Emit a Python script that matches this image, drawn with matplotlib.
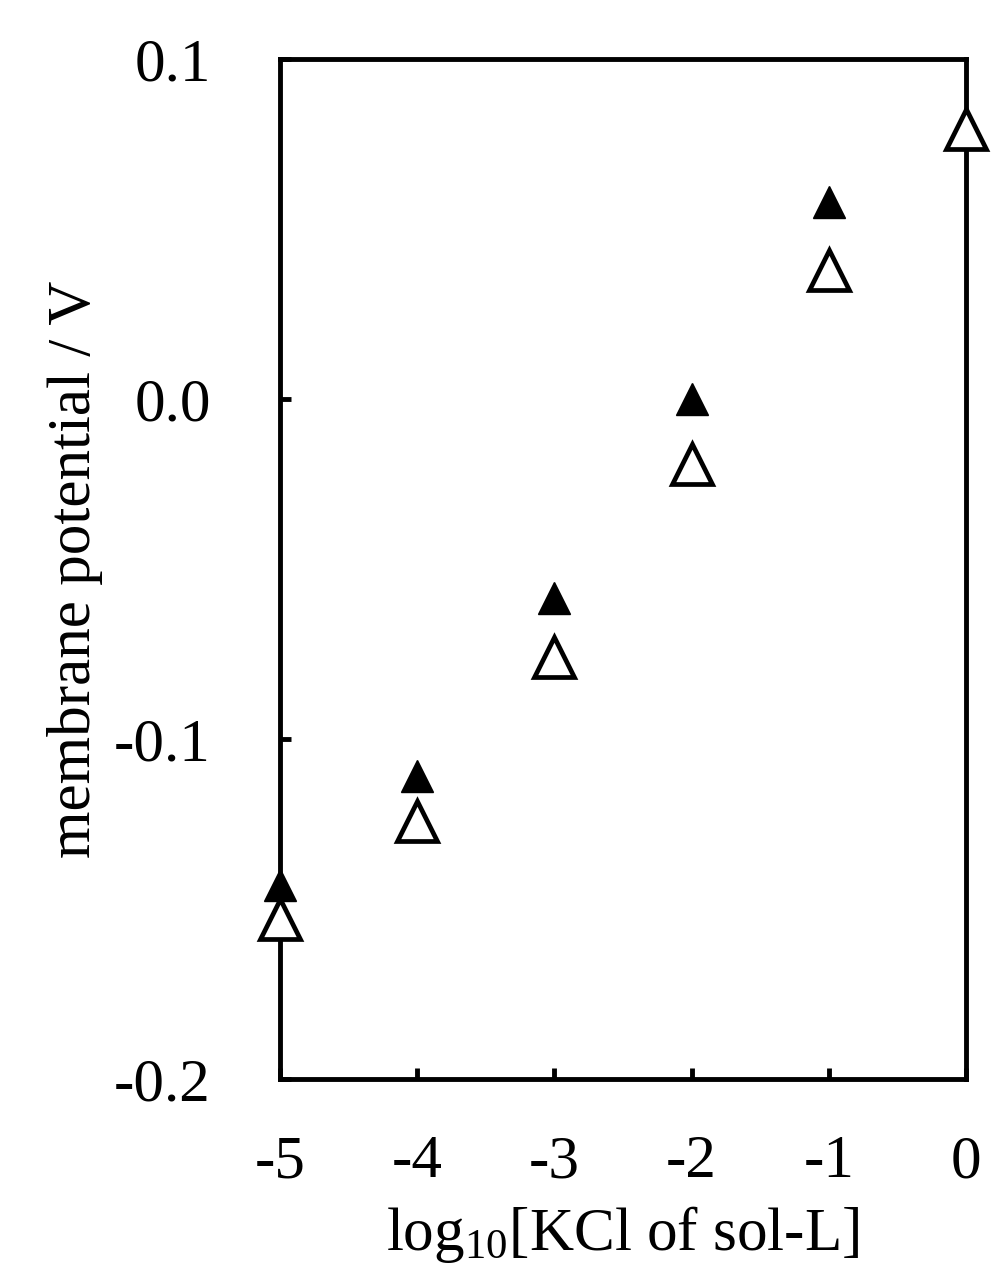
import matplotlib
matplotlib.use("Agg")
import matplotlib.pyplot as plt

# data
x_filled = [-5, -4, -3, -2, -1]
y_filled = [-0.143, -0.111, -0.0585, 0.0, 0.058]
x_open = [-5, -4, -3, -2, -1, 0]
y_open = [-0.153, -0.124, -0.076, -0.019, 0.038, 0.0795]
xticks = [-5, -4, -3, -2, -1, 0]
yticks = [-0.2, -0.1, 0.0, 0.1]
ytick_labels = ["-0.2", "-0.1", "0.0", "0.1"]

plt.rcParams['font.family'] = ['Liberation Serif', 'DejaVu Serif']
plt.rcParams['mathtext.fontset'] = 'custom'
plt.rcParams['mathtext.rm'] = 'Liberation Serif'
plt.rcParams['mathtext.it'] = 'Liberation Serif:italic'

fig = plt.figure(figsize=(10.04, 12.88), dpi=100)
ax = fig.add_axes([0.279, 0.1623, 0.683, 0.7919])

ax.plot(x_open, y_open, linestyle='none', marker='^', markersize=29,
        markerfacecolor='white', markeredgecolor='black', markeredgewidth=3.4,
        clip_on=False, zorder=3)
ax.plot(x_filled, y_filled, linestyle='none', marker='^', markersize=23,
        markerfacecolor='black', markeredgecolor='black', markeredgewidth=1,
        clip_on=False, zorder=4)

ax.set_xlim(-5, 0)
ax.set_ylim(-0.2, 0.1)
ax.set_xticks(xticks)
ax.set_xticklabels([str(v) for v in xticks])
ax.set_yticks(yticks)
ax.set_yticklabels(ytick_labels)

for s in ax.spines.values():
    s.set_linewidth(3.5)
ax.tick_params(direction='in', length=8, width=3.5, labelsize=44)
ax.tick_params(axis='x', pad=40)
ax.tick_params(axis='y', pad=50)

ax.set_xlabel('log$_{10}$[KCl of sol-L]', fontsize=44, labelpad=10)
ax.set_ylabel('membrane potential / V', fontsize=44, labelpad=8)

fig.savefig('out.png', dpi=100)
